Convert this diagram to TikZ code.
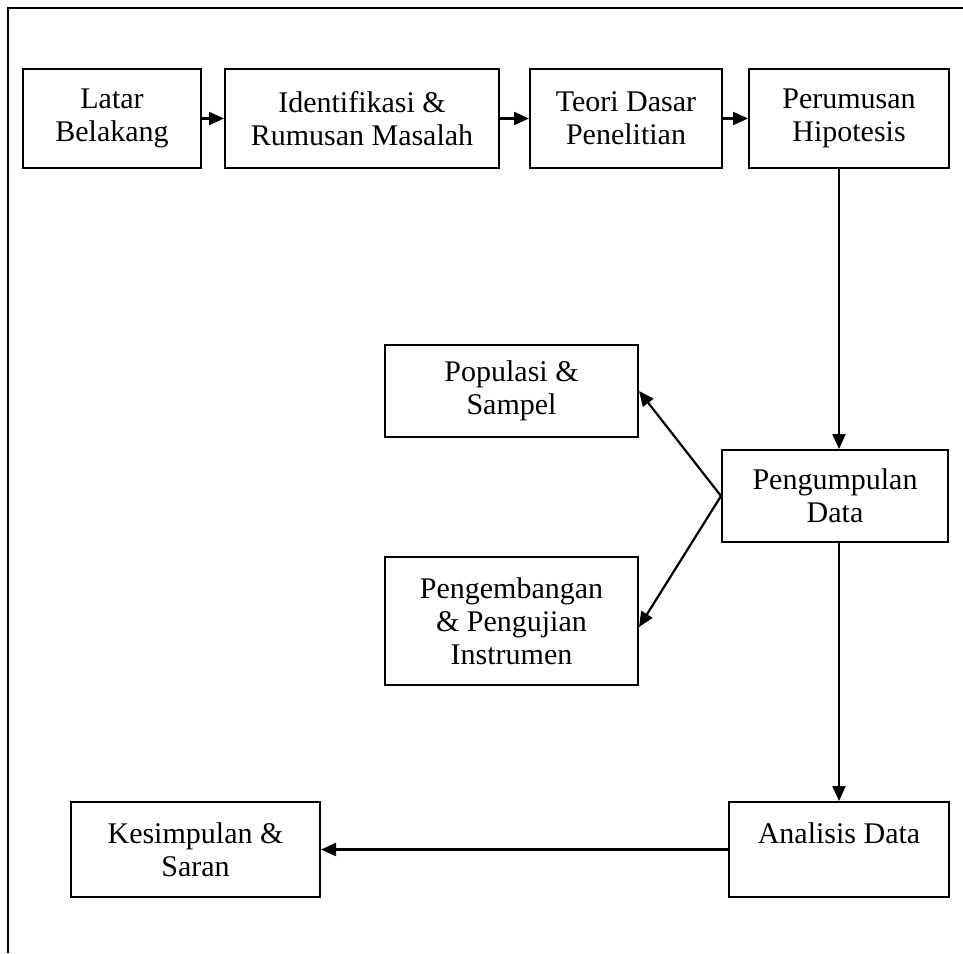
\documentclass[tikz,border=0pt]{standalone}
\usepackage{fontspec}
\setmainfont{Liberation Serif}
\usepackage{tikz}
\usetikzlibrary{positioning,arrows.meta}

\tikzset{
  box/.style={draw, line width=2pt, align=center, inner sep=0pt,
    font=\fontsize{30}{33}\selectfont},
  flow/.style={line width=2.2pt, -{Triangle[length=15pt,width=13pt]}}
}

\begin{document}
\begin{tikzpicture}[x=1pt, y=-1pt]

  \useasboundingbox (0,0) rectangle (963,953);
  % frame
  \draw[line width=2pt] (963,8) -- (8,8) -- (8,953);

  % Nodes

  \node[box, minimum width=178pt, minimum height=99pt] (latar) at (112,118.5) {Latar\\Belakang}; %
  \node[box, minimum width=274pt, minimum height=99pt, right=22pt of latar] (ident) {Identifikasi \&\\Rumusan Masalah}; %
  \node[box, minimum width=192pt, minimum height=99pt, right=29pt of ident] (teori) {Teori Dasar\\Penelitian}; %
  \node[box, minimum width=200pt, minimum height=99pt, right=25pt of teori] (hipo) {Perumusan\\Hipotesis}; %

  \node[box, minimum width=253pt, minimum height=92pt] (populasi) at (511.5,391) {Populasi \&\\Sampel};
  \node[box, minimum width=226pt, minimum height=92pt] (kumpul) at (835,496) {Pengumpulan\\Data};
  \node[box, minimum width=253pt, minimum height=128pt] (instrumen) at (511.5,621) {Pengembangan\\\& Pengujian\\Instrumen};

  \node[box, minimum width=220pt, minimum height=95pt] (analisis) at (839,849.5) {Analisis Data\\\mbox{}};
  \node[box, minimum width=249pt, minimum height=95pt] (simpul) at (195.5,849.5) {Kesimpulan \&\\Saran};

  % Edges
  \draw[flow] (latar) -- (ident); \draw[flow] (ident) -- (teori); \draw[flow] (teori) -- (hipo);
  \draw[flow] (hipo.south -| analisis.north) -- (kumpul.north -| analisis.north);
  \draw[flow] (kumpul.west) -- (populasi.east);
  \draw[flow] (kumpul.west) -- ([yshift=-6pt]instrumen.east);
  \draw[flow] (kumpul.south -| analisis.north) -- (analisis.north);
  \draw[flow] (analisis) -- (simpul);
\end{tikzpicture}
\end{document}
